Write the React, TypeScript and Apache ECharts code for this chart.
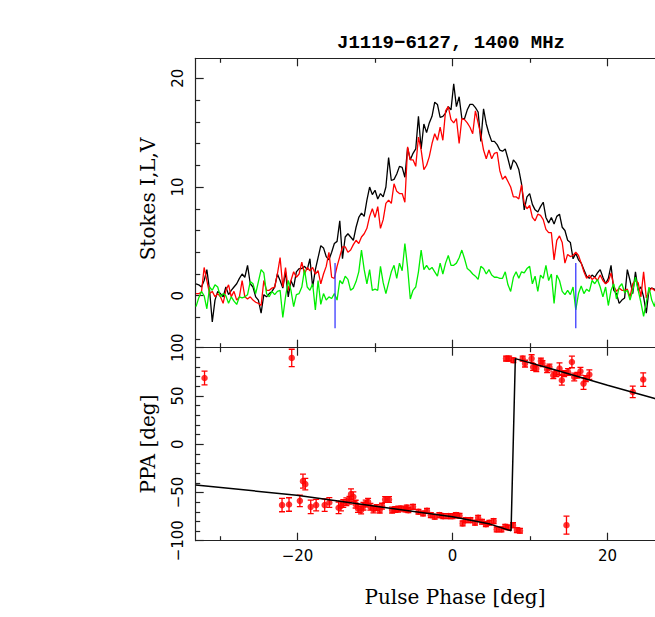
import React, { useEffect, useRef } from "react";
import * as echarts from "echarts";

// ---- Data ----
const TITLE = "J1119\u22126127, 1400 MHz";
const PHASE_START = -33.1;
const PHASE_STEP = 0.35;

const STOKES_I = [
  1.1, 1.0, 0.8, 1.4, 2.4, 0.5, -2.4, -0.4, 0.4, 0.2, -0.1, 0.8, 0.1, 0.5, 0.8, 1.1, 1.6, 2.0, 1.7, 2.8,
  1.1, 0.8, -0.1, -0.4, -1.6, 0.1, -0.1, 0.2, 0.4, 0.8, 2.0, 1.4, 0.7, 2.2, -0.1, 1.4, 0.8, 2.2, 2.5, 2.5,
  2.7, 2.4, 3.4, 0.8, 2.4, 3.5, 4.6, 4.4, 3.6, 3.3, 4.0, 4.8, 5.0, 6.9, 3.4, 5.4, 5.7, 5.4, 5.1, 6.3,
  7.2, 7.6, 7.3, 8.8, 10.0, 9.3, 9.7, 8.9, 9.4, 9.1, 10.0, 12.7, 10.6, 10.7, 11.2, 11.9, 11.8, 10.9, 13.6, 12.5,
  13.1, 13.5, 16.5, 13.5, 15.8, 15.0, 15.9, 16.5, 17.8, 17.6, 16.4, 16.5, 16.8, 17.4, 17.1, 19.5, 17.4, 18.3, 16.3, 16.3,
  17.1, 17.6, 17.6, 17.3, 16.9, 14.2, 17.2, 15.8, 14.9, 14.2, 14.2, 13.9, 13.4, 13.3, 13.5, 12.6, 11.6, 12.5, 12.2, 11.6,
  10.3, 7.9, 9.1, 9.4, 8.4, 7.9, 7.7, 8.2, 8.6, 7.2, 6.7, 7.2, 6.6, 7.3, 7.5, 6.3, 6.0, 5.1, 4.9, 3.4,
  3.9, 3.3, 3.0, 2.4, 1.8, 1.6, 1.9, 1.7, 2.1, 2.4, 1.7, 1.1, 1.6, 2.8, 0.5, 0.2, -0.7, -0.4, -0.2, 2.4,
  1.4, 0.2, 2.2, 0.5, 0.8, -0.1, -1.6, 0.6, 0.7, 0.6, 0.3, 0.9, 0.2,
];

const STOKES_L = [
  0.2, 0.2, 0.3, 2.6, 1.4, 0.2, 0.4, -0.1, 0.2, -0.1, -0.7, 0.5, 1.0, -0.1, 0.4, -0.4, -0.1, 1.4, -0.1, -0.3,
  -0.1, -0.4, -0.6, -0.7, -0.9, 1.4, 0.5, 0.5, 0.7, 0.8, 2.0, 3.5, 0.8, 2.6, 0.5, 1.4, 2.2, 1.7, 2.0, 3.1,
  2.0, 2.6, 2.3, 2.6, 2.0, 2.3, 1.1, 2.0, 2.7, 4.0, 1.7, 1.6, 2.7, 3.6, 4.5, 4.5, 4.0, 4.2, 4.7, 5.1,
  4.8, 5.4, 5.7, 6.2, 7.3, 8.0, 7.2, 8.2, 6.2, 7.0, 8.5, 8.8, 8.5, 10.3, 9.6, 9.4, 9.4, 8.6, 13.7, 12.5,
  12.5, 11.9, 14.6, 13.4, 11.6, 12.0, 12.8, 14.0, 14.9, 14.3, 15.5, 14.3, 17.0, 17.4, 16.2, 15.9, 16.3, 14.0, 16.3, 16.2,
  15.9, 15.5, 14.9, 17.0, 15.9, 14.8, 13.4, 12.6, 13.4, 12.6, 13.1, 13.2, 11.5, 10.7, 11.0, 10.5, 10.0, 9.1, 9.1, 8.9,
  10.2, 8.5, 8.0, 8.3, 7.2, 6.9, 7.5, 7.4, 7.0, 6.1, 5.8, 5.8, 3.3, 5.1, 5.5, 4.9, 3.0, 3.8, 3.6, 3.7,
  4.0, 3.7, 3.0, 2.2, 1.6, 1.9, 1.5, 1.7, 1.4, 1.9, 1.4, 1.1, 1.3, 2.1, 0.9, 0.4, 0.7, 0.5, 0.5, 0.6,
  -0.1, 1.1, 1.4, 1.2, -0.1, 2.2, -0.2, 0.4, 0.7, 0.5, 0.3, 0.6, 0.2,
];

const STOKES_V = [
  -1.0, -0.2, 0.4, 0.0, -1.2, 0.8, 0.5, 1.0, 0.8, -0.1, 0.2, 0.0, -0.7, -0.1, -0.5, -0.8, -0.1, -0.2, -0.1, 0.1,
  1.3, 1.1, 0.2, 1.3, 2.4, 2.1, 0.2, -0.1, 0.4, 0.1, 0.4, 0.5, -2.0, -0.1, 1.4, 0.5, -1.0, 0.1, 0.2, 0.8,
  2.4, 0.8, 0.5, 1.1, -1.3, 1.4, -0.8, 0.2, -0.4, -0.1, -0.25, 0.2, -0.4, 1.4, 1.1, 1.8, 1.5, 0.5, 0.7, 1.3,
  2.2, 4.2, 2.4, 1.1, 2.4, 0.5, 0.6, 0.5, 2.7, 1.2, 0.2, 1.2, 2.2, 2.8, 1.6, 3.0, 2.3, 4.8, 2.6, -0.3,
  0.5, 0.8, 2.2, 4.2, 2.4, 2.8, 2.4, 2.6, 2.2, 1.8, 3.0, 2.0, 3.0, 3.7, 2.8, 2.8, 3.0, 3.5, 4.2, 3.4,
  2.5, 2.3, 2.0, 1.8, 1.5, 2.7, 2.5, 2.0, 2.4, 1.9, 1.7, 1.7, 1.6, 1.6, 2.2, 1.0, 0.4, 1.7, 2.2, 1.6,
  2.2, 2.1, 2.5, 2.7, 1.1, 1.8, 0.4, 1.9, 1.6, 2.8, 1.4, 2.0, -0.7, 1.9, 1.4, 0.4, 0.1, 0.5, 0.1, 0.8,
  -1.3, 0.2, 0.9, 0.2, 0.6, 0.4, 1.4, 1.1, 1.5, 0.8, -0.1, 0.8, -0.9, 0.5, 1.1, -0.3, 0.8, 1.1, 0.3, 0.5,
  -0.4, 0.5, 1.7, 0.5, -0.6, -1.9, -0.6, 0.8, -0.4, -1.0, 0.2, -0.3, 0.4,
];

const MARKER_PHASES = [-15.16, 15.9];
const MARKER_RANGE = [-3.0, 3.0];

const PPA_PHASE = [
  -32.0, -22.0, -21.1, -20.75, -19.7, -19.3, -19.0, -18.3, -17.6, -16.5, -15.9, -14.7, -14.4, -14.1, -13.7, -13.3,
  -13.1, -12.8, -12.5, -12.2, -11.8, -11.5, -11.2, -10.9, -10.6, -10.2, -9.8, -9.4, -9.1, -8.7, -8.2, -7.8,
  -7.4, -7.0, -6.6, -6.1, -5.9, -5.7, -5.1, -4.4, -3.8, -3.3, -2.8, -2.3, -1.7, -1.2, -0.5, 0.0,
  0.45, 0.9, 1.3, 1.7, 2.3, 2.9, 3.3, 3.8, 4.3, 4.75, 5.3, 5.7, 6.3, 6.8, 7.2, 7.8,
  8.3, 8.7, 14.7, 6.9, 7.3, 7.85, 9.05, 9.35, 10.2, 10.4, 10.8, 11.4, 11.6, 12.2, 12.5, 13.0,
  13.4, 13.8, 14.1, 14.4, 14.9, 15.4, 15.7, 16.1, 16.5, 16.9, 17.2, 17.65, 23.25, 24.6,
];
const PPA_VALUE = [
  68.6, -63.1, -62.5, 89.4, -58.7, -38.3, -41.4, -64.9, -63.1, -63.1, -60.4, -65.9, -64.0, -61.4, -59.7, -58.0,
  -51.8, -54.5, -62.1, -66.6, -68.3, -64.2, -61.4, -59.7, -64.9, -67.6, -65.6, -68.3, -64.2, -57.3, -57.3, -68.3,
  -67.6, -67.3, -66.6, -67.6, -65.6, -68.3, -64.9, -70.0, -71.8, -69.0, -73.5, -75.2, -73.5, -74.5, -74.5, -74.5,
  -73.5, -74.2, -82.1, -78.7, -78.7, -81.4, -76.2, -80.4, -82.8, -81.4, -79.7, -88.3, -88.3, -85.6, -86.3, -83.9,
  -89.0, -89.7, -83.9, 88.7, 88.7, 87.0, 88.7, 83.5, 88.7, 80.0, 78.3, 86.3, 83.5, 77.6, 80.0, 71.4,
  73.1, 78.3, 66.3, 73.1, 74.8, 85.2, 69.7, 71.4, 75.6, 62.8, 68.0, 72.1, 54.2, 67.0,
];
const PPA_ERROR = [
  7.2, 6.9, 7.0, 9.0, 6.0, 7.2, 6.0, 7.0, 6.0, 6.5, 5.0, 6.0, 5.0, 4.0, 4.0, 4.0,
  5.5, 5.0, 4.0, 4.0, 4.0, 4.0, 3.5, 3.5, 3.5, 3.5, 3.0, 3.0, 3.0, 3.0, 3.0, 3.0,
  3.0, 3.0, 2.5, 2.5, 2.5, 2.5, 2.5, 2.5, 2.5, 2.5, 2.5, 2.5, 2.5, 2.5, 2.5, 2.5,
  2.5, 2.5, 2.5, 2.5, 2.5, 2.5, 2.5, 2.5, 2.5, 2.5, 2.5, 2.5, 2.5, 2.5, 2.5, 2.5,
  2.5, 2.5, 9.3, 2.5, 2.5, 2.5, 2.5, 3.5, 4.0, 3.5, 3.0, 3.0, 3.0, 3.5, 3.0, 3.5,
  3.0, 6.0, 5.0, 3.0, 3.5, 6.0, 4.0, 3.0, 4.0, 6.0, 3.0, 5.0, 6.0, 7.0,
];

const FIT_PHASE = [-33.14, -20.1, -8.06, 0.0, 4.84, 7.55, 8.1, 13.4, 20.0, 26.1, 33.1];
const FIT_PPA = [-42.4, -52.8, -66.4, -75.2, -82.8, -89.7, 88.7, 76.6, 61.1, 47.3, 31.5];

const X_MAJOR = [-20, 0, 20];
const X_MINOR = [-30, -10, 10, 30];
const Y1_MAJOR = [0, 10, 20];
const Y1_MINOR = [-4, -2, 2, 4, 6, 8, 12, 14, 16, 18];

// ---- Layout / style ----
const X_MIN = -33.14;
const X_MAX = 33.05;
const AX = "#222";
const TICK_FONT = 15;
const minus = (v: number) => String(v).replace("-", "\u2212");

function xAxis(gridIndex: number, position: string, ticks: number[], len: number, line: boolean, labels?: number[]) {
  return {
    type: "value",
    gridIndex,
    position,
    min: X_MIN,
    max: X_MAX,
    axisLine: { show: line, onZero: false, lineStyle: { color: AX, width: 1.2 } },
    axisTick: { show: true, inside: true, length: len, customValues: ticks, lineStyle: { color: AX, width: 1.2 } },
    axisLabel: labels
      ? {
          show: true,
          customValues: labels,
          formatter: minus,
          margin: 8,
          fontSize: TICK_FONT,
          fontFamily: "DejaVu Sans",
          color: "#000",
        }
      : { show: false },
    splitLine: { show: false },
  };
}

export default function App() {
  const ref = useRef<HTMLDivElement>(null);
  useEffect(() => {
    if (!ref.current) return;
    const chart = echarts.init(ref.current, null, { renderer: "svg" });
    const pairs = (arr: number[]) => arr.map((v, i) => [PHASE_START + i * PHASE_STEP, v]);
    const ppaData = PPA_PHASE.map((p, i) => [p, PPA_VALUE[i], PPA_ERROR[i]]);
    const fitData = FIT_PHASE.map((p, i) => [p, FIT_PPA[i]]);
    const lineBase = { type: "line", showSymbol: false, symbol: "none", xAxisIndex: 0, yAxisIndex: 0, clip: true };

    chart.setOption({
      animation: false,
      backgroundColor: "#fff",
      grid: [
        { left: 195.7, top: 58.3, width: 513, height: 289.4 },
        { left: 195.7, top: 347.7, width: 513, height: 193 },
      ],
      xAxis: [
        xAxis(0, "bottom", X_MAJOR, 8, true),
        xAxis(0, "bottom", X_MINOR, 4.5, false),
        xAxis(0, "top", X_MAJOR, 8, true),
        xAxis(0, "top", X_MINOR, 4.5, false),
        xAxis(1, "bottom", X_MAJOR, 8, true, X_MAJOR),
        xAxis(1, "bottom", X_MINOR, 4.5, false),
        xAxis(1, "top", X_MAJOR, 8, true),
        xAxis(1, "top", X_MINOR, 4.5, false),
      ],
      yAxis: [
        {
          type: "value",
          gridIndex: 0,
          position: "left",
          min: -4.78,
          max: 21.84,
          axisLine: { show: true, onZero: false, lineStyle: { color: AX, width: 1.2 } },
          axisTick: { show: true, inside: true, length: 8, customValues: Y1_MAJOR, lineStyle: { color: AX, width: 1.2 } },
          axisLabel: {
            show: true,
            customValues: Y1_MAJOR,
            rotate: 90,
            margin: 10,
            fontSize: TICK_FONT,
            fontFamily: "DejaVu Sans",
            color: "#000",
            formatter: minus,
          },
          splitLine: { show: false },
        },
        {
          type: "value",
          gridIndex: 0,
          position: "left",
          min: -4.78,
          max: 21.84,
          axisLine: { show: false, onZero: false },
          axisTick: { show: true, inside: true, length: 4.5, customValues: Y1_MINOR, lineStyle: { color: AX, width: 1.2 } },
          axisLabel: { show: false },
          splitLine: { show: false },
        },
        {
          type: "value",
          gridIndex: 1,
          position: "left",
          min: -100,
          max: 100,
          interval: 50,
          axisLine: { show: true, onZero: false, lineStyle: { color: AX, width: 1.2 } },
          axisTick: { show: true, inside: true, length: 8, lineStyle: { color: AX, width: 1.2 } },
          minorTick: { show: true, splitNumber: 5, length: 4.5, lineStyle: { color: AX, width: 1.2 } },
          axisLabel: {
            show: true,
            rotate: 90,
            margin: 10,
            fontSize: TICK_FONT,
            fontFamily: "DejaVu Sans",
            color: "#000",
            formatter: minus,
          },
          splitLine: { show: false },
          minorSplitLine: { show: false },
        },
      ],
      series: [
        { ...lineBase, name: "I", data: pairs(STOKES_I), lineStyle: { color: "#000", width: 1.3 } },
        { ...lineBase, name: "L", data: pairs(STOKES_L), lineStyle: { color: "#ff0000", width: 1.3 } },
        { ...lineBase, name: "V", data: pairs(STOKES_V), lineStyle: { color: "#00ee00", width: 1.3 } },
        ...MARKER_PHASES.map((p) => ({
          ...lineBase,
          name: "marker",
          data: MARKER_RANGE.map((v) => [p, v]),
          lineStyle: { color: "#3a3aff", width: 1.3 },
        })),
        {
          type: "custom",
          name: "err",
          xAxisIndex: 4,
          yAxisIndex: 2,
          clip: true,
          data: ppaData,
          encode: { x: 0, y: 1 },
          renderItem: (_params: any, api: any) => {
            const x = api.value(0);
            const y = api.value(1);
            const e = api.value(2);
            const t = api.coord([x, y + e]);
            const b = api.coord([x, y - e]);
            const hw = 3;
            const st = { stroke: "#ff0000", lineWidth: 1.3 };
            return {
              type: "group",
              children: [
                { type: "line", shape: { x1: t[0], y1: t[1], x2: b[0], y2: b[1] }, style: st },
                { type: "line", shape: { x1: t[0] - hw, y1: t[1], x2: t[0] + hw, y2: t[1] }, style: st },
                { type: "line", shape: { x1: b[0] - hw, y1: b[1], x2: b[0] + hw, y2: b[1] }, style: st },
              ],
            };
          },
        },
        {
          type: "scatter",
          name: "PPA",
          xAxisIndex: 4,
          yAxisIndex: 2,
          symbol: "circle",
          symbolSize: 6.5,
          itemStyle: { color: "#ff0000" },
          data: ppaData.map((d) => [d[0], d[1]]),
        },
        {
          type: "line",
          name: "fit",
          xAxisIndex: 4,
          yAxisIndex: 2,
          showSymbol: false,
          symbol: "none",
          clip: true,
          data: fitData,
          lineStyle: { color: "#000", width: 1.5 },
        },
      ],
      graphic: [
        {
          type: "text",
          x: 451,
          y: 43,
          style: {
            text: TITLE,
            font: 'bold 19px "Liberation Mono"',
            fill: "#000",
            textAlign: "center",
            textVerticalAlign: "middle",
            align: "center",
            verticalAlign: "middle",
          },
        },
        {
          type: "text",
          x: 148,
          y: 199,
          rotation: Math.PI / 2,
          style: {
            text: "Stokes I,L,V",
            font: '20px "DejaVu Serif"',
            fill: "#000",
            textAlign: "center",
            textVerticalAlign: "middle",
            align: "center",
            verticalAlign: "middle",
          },
        },
        {
          type: "text",
          x: 148,
          y: 444,
          rotation: Math.PI / 2,
          style: {
            text: "PPA [deg]",
            font: '20px "DejaVu Serif"',
            fill: "#000",
            textAlign: "center",
            textVerticalAlign: "middle",
            align: "center",
            verticalAlign: "middle",
          },
        },
        {
          type: "text",
          x: 455,
          y: 597,
          style: {
            text: "Pulse Phase [deg]",
            font: '20px "DejaVu Serif"',
            fill: "#000",
            textAlign: "center",
            textVerticalAlign: "middle",
            align: "center",
            verticalAlign: "middle",
          },
        },
      ],
    });
    return () => chart.dispose();
  }, []);

  return (
    <div
      style={{
        position: "fixed",
        left: 0,
        top: 0,
        width: 655,
        height: 617,
        overflow: "hidden",
        background: "#fff",
      }}
    >
      <div ref={ref} style={{ width: 720, height: 617 }} />
    </div>
  );
}
